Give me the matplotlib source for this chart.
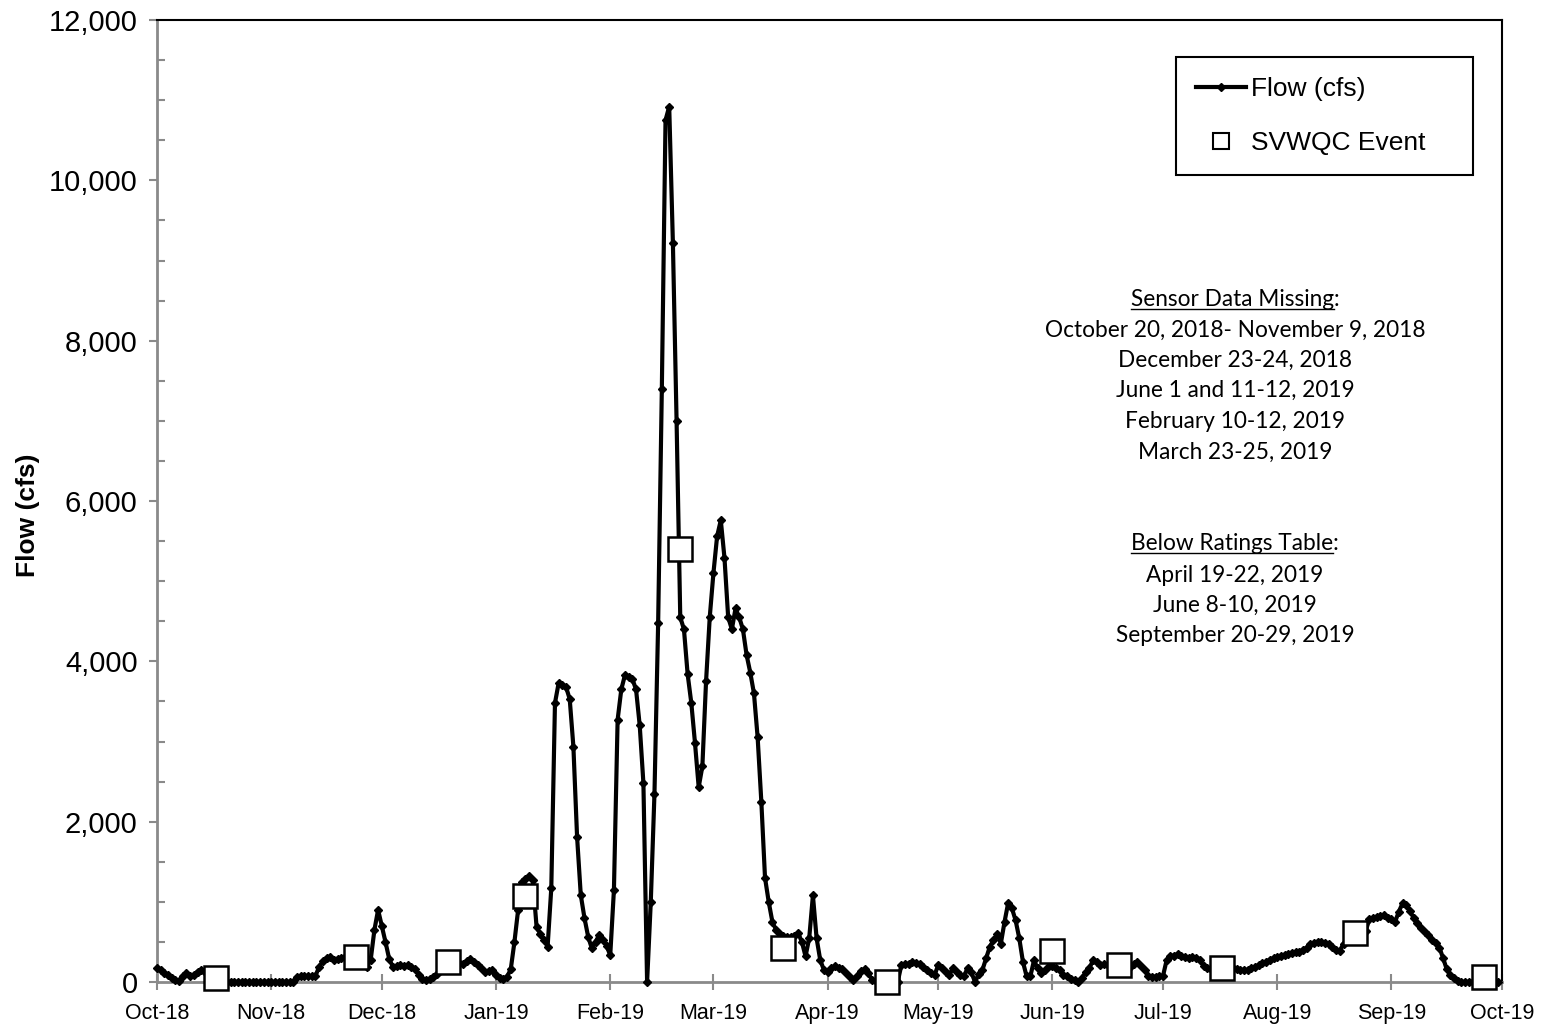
## Daily flow (cfs) for water year 2019 with SVWQC sampling events.

import numpy as np
import pandas as pd
import matplotlib
matplotlib.use("Agg")
import matplotlib.pyplot as plt
import matplotlib.dates as mdates
from matplotlib.ticker import MultipleLocator, StrMethodFormatter
from matplotlib.lines import Line2D

plt.rcParams['font.family'] = ['Liberation Sans', 'DejaVu Sans']

## daily flow values, one list per month
oct18 = [175, 145, 115, 85, 55, 25, 10, 80, 110, 80,
         90, 130, 150, 130, 110, 90, 70, 50, 30, 0,
         0, 0, 0, 0, 0, 0, 0, 0, 0, 0, 0]
nov18 = [0, 0, 0, 0, 0, 0, 0, 65, 70, 70,
         70, 72, 75, 190, 260, 300, 315, 280, 290, 300,
         310, 320, 310, 300, 280, 250, 190, 280, 650, 900]
dec18 = [700, 500, 290, 190, 200, 210, 205, 210, 190, 160,
         90, 40, 25, 40, 60, 100, 150, 190, 220, 250,
         260, 240, 230, 260, 283, 250, 210, 170, 130, 140, 150]
jan19 = [90, 50, 40, 66, 158, 500, 900, 1250, 1280, 1320,
         1270, 690, 600, 520, 440, 1170, 3480, 3730, 3700, 3680,
         3530, 2935, 1810, 1085, 800, 565, 420, 500, 585, 525, 450]
feb19 = [335, 1150, 3270, 3650, 3830, 3800, 3780, 3650, 3200, 2480,
         0, 1000, 2350, 4480, 7400, 10750, 10920, 9220, 7000, 4550,
         4400, 3840, 3480, 2980, 2430, 2690, 3750, 4550]
mar19 = [5100, 5560, 5760, 5290, 4550, 4400, 4660, 4550, 4400, 4080,
         3860, 3600, 3050, 2250, 1300, 1000, 750, 650, 600, 570,
         560, 560, 580, 610, 500, 320, 550, 1080, 545, 270, 150]
apr19 = [130, 170, 200, 180, 160, 110, 60, 25, 80, 140,
         160, 110, 30, 10, 0, 0, 0, 0, 0, 0,
         210, 220, 230, 250, 240, 225, 190, 150, 110, 85]
may19 = [210, 170, 130, 90, 170, 120, 90, 70, 180, 120,
         0, 100, 150, 295, 440, 520, 600, 480, 750, 990,
         920, 770, 545, 250, 70, 70, 270, 170, 110, 150, 200]
jun19 = [200, 180, 150, 90, 70, 40, 20, 0, 50, 120,
         170, 270, 250, 210, 220, 210, 200, 190, 180, 170,
         180, 190, 220, 254, 200, 150, 80, 66, 66, 70]
jul19 = [75, 274, 320, 330, 345, 330, 310, 305, 316, 300,
         274, 200, 170, 160, 150, 155, 160, 165, 170, 170,
         165, 150, 150, 150, 170, 190, 210, 233, 250, 280, 295]
aug19 = [310, 330, 340, 355, 366, 370, 378, 400, 430, 470,
         490, 503, 500, 490, 470, 441, 400, 390, 480, 520,
         560, 600, 620, 630, 640, 780, 800, 815, 825, 836, 800]
sep19 = [790, 753, 877, 981, 960, 890, 800, 730, 670, 620,
         586, 530, 482, 430, 300, 160, 90, 46, 15, 0,
         0, 0, 0, 0, 0, 0, 0, 0, 0, 0]

flow = oct18 + nov18 + dec18 + jan19 + feb19 + mar19 + apr19 + may19 + jun19 + jul19 + aug19 + sep19
dates = pd.date_range('2018-10-01', periods=len(flow), freq='D')

## SVWQC sampling events
event_dates = pd.to_datetime(['2018-10-17', '2018-11-24', '2018-12-19', '2019-01-09',
                              '2019-02-20', '2019-03-20', '2019-04-17', '2019-06-01',
                              '2019-06-19', '2019-07-17', '2019-08-22', '2019-09-26'])
event_flow = [50, 310, 250, 1070, 5400, 420, 0, 390, 212, 171, 607, 60]

missing_lines = ['October 20, 2018- November 9, 2018', 'December 23-24, 2018',
                 'June 1 and 11-12, 2019', 'February 10-12, 2019', 'March 23-25, 2019']
rating_lines = ['April 19-22, 2019', 'June 8-10, 2019', 'September 20-29, 2019']

W, H = 1544, 1028
fig = plt.figure(figsize=(W / 100, H / 100), dpi=100)
ax = fig.add_axes([157 / W, 1 - 982 / H, 1345 / W, 962 / H])

ax.plot(dates, flow, color='black', lw=3, marker='D', ms=3.8,
        label='Flow (cfs)', clip_on=False, zorder=3)
ax.plot(event_dates, event_flow, ls='none', marker='s', ms=17, mfc='white',
        mec='black', mew=1.8, label='SVWQC Event', clip_on=False, zorder=4)

ax.set_xlim(pd.Timestamp('2018-10-01'), pd.Timestamp('2019-10-01'))
ax.set_ylim(0, 12000)
ax.xaxis.set_major_locator(mdates.MonthLocator())
ax.xaxis.set_major_formatter(mdates.DateFormatter('%b-%y'))
ax.yaxis.set_major_locator(MultipleLocator(2000))
ax.yaxis.set_minor_locator(MultipleLocator(500))
ax.yaxis.set_major_formatter(StrMethodFormatter('{x:,.0f}'))

gray = '#8a8a8a'
ax.tick_params(axis='x', which='major', direction='inout', length=12, width=1.5,
               color=gray, labelsize=15.5, pad=9)
ax.tick_params(axis='y', which='major', direction='out', length=6, width=1.5,
               color=gray, labelsize=21, pad=8)
ax.tick_params(axis='y', which='minor', direction='in', length=6, width=1.5, color=gray)
for s in ['left', 'bottom']:
    ax.spines[s].set_color(gray)
    ax.spines[s].set_linewidth(2)
for s in ['top', 'right']:
    ax.spines[s].set_color('black')
    ax.spines[s].set_linewidth(1.5)

ax.set_ylabel('Flow (cfs)', fontsize=19, fontweight='bold')
ax.yaxis.set_label_coords((40 - 157) / 1345, (982 - 515) / 962)

leg = ax.legend(loc='upper left', bbox_to_anchor=(0.7576, 0.842, 0.2208, 0.1195),
                mode='expand', borderaxespad=0, fontsize=19, frameon=True, fancybox=False,
                edgecolor='black', framealpha=1, borderpad=0.75, labelspacing=1.15,
                handlelength=1.9, handletextpad=0.2, numpoints=1, markerscale=1)
leg.get_frame().set_linewidth(1.5)
leg.legend_handles[1].set_markersize(12)
leg.legend_handles[1].set_markeredgewidth(1.5)

## notes on the right hand side
note_font = dict(family=['Lato', 'DejaVu Sans'], fontsize=16.3, ha='center', va='center')
cx = (1235 - 157) / 1345
heads = []
y_px = [300, 330, 360, 390, 421, 452]
t = ax.text(cx, (982 - y_px[0]) / 962, 'Sensor Data Missing:', transform=ax.transAxes, **note_font)
heads.append((t, 'Sensor Data Missing'))
for yy, line in zip(y_px[1:], missing_lines):
    ax.text(cx, (982 - yy) / 962, line, transform=ax.transAxes, **note_font)
y_px = [544, 575, 605, 635]
t = ax.text(cx, (982 - y_px[0]) / 962, 'Below Ratings Table:', transform=ax.transAxes, **note_font)
heads.append((t, 'Below Ratings Table'))
for yy, line in zip(y_px[1:], rating_lines):
    ax.text(cx, (982 - yy) / 962, line, transform=ax.transAxes, **note_font)

# underline the two headings (without the colon)
fig.canvas.draw()
r = fig.canvas.get_renderer()
for t, word in heads:
    bb = t.get_window_extent(r)
    tmp = ax.text(0, 0, word, transform=ax.transAxes, **note_font)
    w = tmp.get_window_extent(r).width
    tmp.remove()
    y = bb.y0 + 2
    fig.add_artist(Line2D([bb.x0 / W, (bb.x0 + w) / W], [y / H, y / H],
                          transform=fig.transFigure, color='black', lw=1))

fig.savefig('out.png', dpi=100)
